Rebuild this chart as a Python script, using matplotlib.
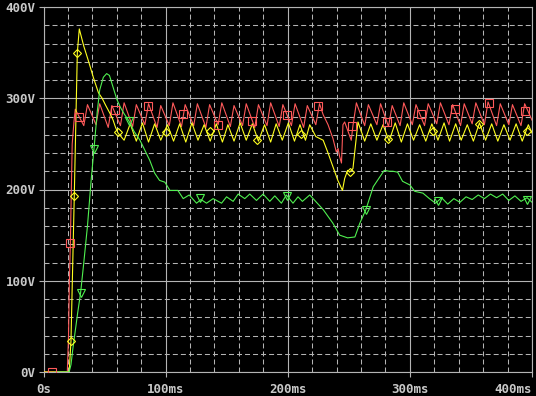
import numpy as np
import matplotlib
matplotlib.use('Agg')
import matplotlib.pyplot as plt

# time in ms, voltage in V
red_t = [0, 19.5, 20.5, 21.2, 22, 22.8, 23.5, 25, 26,
         33, 36, 43, 46, 53, 56, 63, 66, 73, 76, 83, 86, 93, 96, 103, 106,
         113, 116, 123, 126, 133, 136, 143, 146, 153, 156, 163, 166, 173, 176,
         183, 186, 193, 196, 203, 206, 213, 216, 223, 226,
         229, 233, 237, 239.8, 241.2, 242.5, 244, 245.2, 246.6, 252, 253.4, 256.2,
         263, 266, 273, 276, 282.5, 285.5, 292, 295, 302, 305, 312, 315, 322, 325,
         332, 335, 341.5, 344.5, 351, 354, 361, 364, 371, 374, 381, 384, 391, 394, 400]
red_v = [0, 0, 40, 100, 141, 200, 250, 275, 288,
         270, 293, 271, 294, 268, 292, 270, 295, 269, 293, 271, 294, 268, 292, 270, 295,
         269, 293, 270, 294, 268, 293, 271, 295, 269, 292, 270, 294, 268, 293,
         270, 295, 269, 293, 270, 294, 268, 292, 271, 294,
         282, 271, 256, 241, 245, 236, 229, 271, 274, 254, 270, 295,
         270, 293, 271, 294, 269, 292, 270, 295, 271, 293, 270, 294, 272, 295,
         271, 293, 270, 294, 272, 295, 271, 296, 270, 294, 271, 293, 270, 294, 276]

yel_t = [0, 21, 22.5, 25.2, 27.7, 29.3, 33, 37, 41, 45, 48, 51, 53, 55, 57, 59, 61,
         66, 71, 76, 81, 86, 91, 96, 101.5, 106.5, 111.5, 116.5, 121.5, 126.5, 131.5,
         136.5, 141.5, 146.5, 151, 156, 161, 166, 171, 176, 181, 186, 190.5, 195.5,
         200.5, 205.5, 210, 214.5, 218,
         223, 229, 233, 237, 241, 244.8, 246.6, 249, 250.7, 253.4, 257.5,
         263, 268, 273, 278, 283, 288, 293, 298, 303, 308, 313, 318, 323, 328,
         332.5, 337.5, 342, 347, 352, 357, 362, 367, 372, 377, 382, 387, 392, 397, 400]
yel_v = [0, 0, 34, 193, 350, 376, 357, 340, 322, 306, 300, 292, 287, 282, 276, 268, 262,
         254, 272, 253, 273, 252, 272, 254, 271, 253, 272, 252, 273, 254, 271,
         253, 272, 252, 271, 253, 273, 254, 272, 253, 271, 252, 272, 254,
         273, 253, 271, 254, 271,
         258, 254, 240, 225, 210, 199, 212, 221, 219, 223, 274,
         253, 272, 254, 271, 253, 273, 252, 272, 254, 271, 253, 272, 254, 273,
         253, 272, 254, 271, 253, 273, 254, 272, 253, 271, 254, 272, 253, 271, 262]

grn_t = [9.5, 21, 22.5, 24, 26, 28, 30.4, 33, 36, 39, 41.3, 44, 46, 49, 51.7, 54, 57,
         60, 63, 66, 70, 74, 79, 83, 87, 91, 95, 99.4, 103.5, 110, 114.4,
         119.3, 125.3, 129, 133.5, 138.9, 145.8, 149.9, 155.3, 159.4, 164.8, 168.9,
         174.4, 179.8, 185.3, 189.4, 194.8, 198.9, 204.3, 208.4, 212, 218,
         229, 237, 242.5, 249, 255, 259, 264, 270, 279, 283, 286, 290, 294, 300,
         304, 310.7, 316, 321, 326, 331, 336, 341, 346, 351, 356, 361, 366, 371,
         376, 381, 386, 391, 396, 400]
grn_v = [0, 0, 8, 25, 45, 65, 87, 120, 160, 210, 244, 285, 309, 323, 327, 325, 312,
         299, 290, 283, 275, 264, 254, 243, 232, 218, 210, 208, 199, 199, 190,
         194, 185, 189, 185, 190, 185, 192, 187, 195, 190, 195,
         188, 195, 187, 193, 185, 194, 185, 192, 187, 194,
         178, 163, 150, 147, 148, 163, 178, 203, 221, 220, 220, 219, 209, 205,
         198, 196, 190, 185, 191, 184, 190, 186, 192, 189, 194, 190, 195, 191,
         195, 188, 193, 187, 191, 186]

# marker positions
red_mt = [7, 22, 29, 58.5, 85.7, 114, 143, 171, 199, 225, 253, 281, 309, 336.6, 364.7, 394.4]
red_mv = [0, 141, 279, 287, 292, 283, 271, 275, 282, 291, 270, 274, 283, 288, 295, 286]
yel_mt = [22.5, 25.2, 27.7, 60.7, 100, 136, 175, 211, 250.7, 282, 319, 356.5, 396]
yel_mv = [34, 193, 350, 263, 263, 264, 254, 261, 219, 255, 264, 272, 264]
grn_mt = [30.4, 41.3, 70, 128, 199, 264, 323, 396]
grn_mv = [87, 244, 275, 191, 193, 177, 187, 188]

RED = '#ff5a5a'
YEL = '#ffff20'
GRN = '#50f050'
GRID = '#b4b4b4'
TXT = '#c8c8c8'

fig = plt.figure(figsize=(5.36, 3.96), dpi=100, facecolor='black')
ax = fig.add_axes([43.5 / 536, 24 / 396, 488.5 / 536, 365 / 396])
ax.set_facecolor('black')

lw = 0.8
ax.plot(red_t, red_v, color=RED, lw=lw, zorder=3)
ax.plot(yel_t, yel_v, color=YEL, lw=lw, zorder=4)
ax.plot(grn_t, grn_v, color=GRN, lw=lw, zorder=5)
ax.plot(red_mt, red_mv, ls='none', marker='s', ms=5.5, mfc='none', mec=RED, mew=0.8, zorder=6)
ax.plot(yel_mt, yel_mv, ls='none', marker='D', ms=4.5, mfc='none', mec=YEL, mew=0.8, zorder=6)
ax.plot(grn_mt, grn_mv, ls='none', marker='v', ms=6, mfc='none', mec=GRN, mew=0.8, zorder=6)

ax.set_xlim(0, 400)
ax.set_ylim(0, 400)
ax.set_xticks([0, 100, 200, 300, 400])
ax.set_yticks([0, 100, 200, 300, 400])
ax.set_xticks(np.arange(0, 401, 20), minor=True)
ax.set_yticks(np.arange(0, 401, 20), minor=True)
ax.set_xticklabels(['0s', '100ms', '200ms', '300ms', '400ms'])
ax.set_yticklabels(['0V', '100V', '200V', '300V', '400V'])
ax.get_xticklabels()[-1].set_ha('right')

ax.grid(which='major', color=GRID, lw=0.8, ls='-', zorder=1)
ax.grid(which='minor', color=GRID, lw=0.75, ls=(0, (4.8, 2.9)), zorder=1)
ax.set_axisbelow(True)
for s in ax.spines.values():
    s.set_color(GRID)
    s.set_linewidth(0.8)

ax.tick_params(which='major', length=3.6, width=0.8, color=GRID, labelcolor=TXT,
               labelsize=9)
ax.tick_params(axis='x', which='major', pad=4.3)
ax.tick_params(axis='y', which='major', pad=2.2)
ax.tick_params(which='minor', length=0)
for lab in ax.get_xticklabels() + ax.get_yticklabels():
    lab.set_family('DejaVu Sans Mono')
    lab.set_fontweight('bold')

fig.savefig('out.png', dpi=100, facecolor='black')
